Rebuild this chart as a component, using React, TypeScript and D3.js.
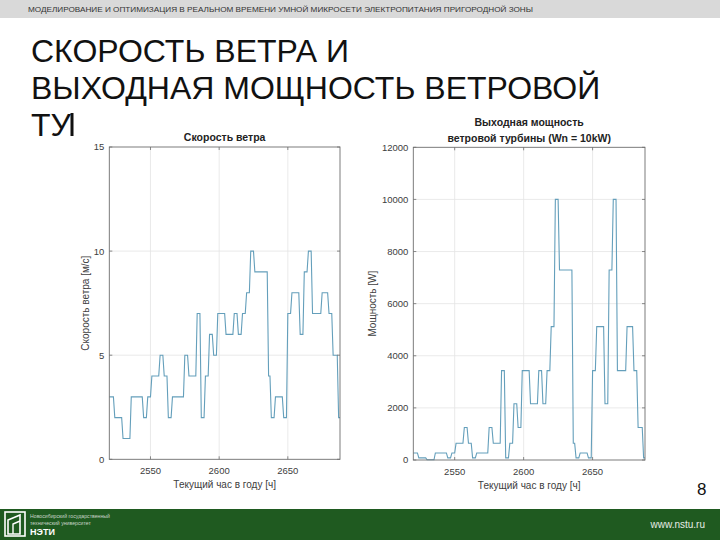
import React from "react";
import * as d3 from "d3";

// ---- data (hour of year 2520..2688) ----
const hours: number[] = d3.range(2520, 2689);

const windSpeed: number[] = [
  3, 3, 3, 3,
  2, 2, 2, 2, 2, 2,
  1, 1, 1, 1, 1, 1,
  3, 3, 3, 3, 3, 3, 3, 3, 3,
  2, 2, 2,
  3, 3, 3,
  4, 4, 4, 4, 4, 4,
  5, 5, 5,
  4, 4, 4,
  2, 2, 2,
  3, 3, 3, 3, 3, 3, 3, 3, 3,
  5, 5, 5,
  4, 4, 4, 4, 4, 4,
  7, 7, 7,
  2, 2, 2,
  4, 4, 4,
  6, 6, 6,
  5, 5, 5,
  7, 7, 7, 7, 7, 7,
  6, 6, 6, 6, 6, 6,
  7, 7, 7,
  6, 6, 6,
  7, 7, 7,
  8, 8, 8,
  10, 10, 10,
  9, 9, 9, 9, 9, 9, 9, 9, 9, 9,
  4, 4,
  2, 2, 2,
  3, 3, 3, 3, 3, 3,
  2, 2, 2,
  7, 7, 7,
  8, 8, 8, 8, 8, 8,
  6, 6, 6,
  9, 9, 9,
  10, 10, 10,
  7, 7, 7, 7, 7, 7, 7,
  8, 8, 8, 8, 8,
  7, 7, 7,
  5, 5, 5, 5,
  2, 2,
];

const power: number[] = [
  270, 270, 270, 270,
  80, 80, 80, 80, 80, 80,
  10, 10, 10, 10, 10, 10,
  270, 270, 270, 270, 270, 270, 270, 270, 270,
  80, 80, 80,
  270, 270, 270,
  640, 640, 640, 640, 640, 640,
  1250, 1250, 1250,
  640, 640, 640,
  80, 80, 80,
  270, 270, 270, 270, 270, 270, 270, 270, 270,
  1250, 1250, 1250,
  640, 640, 640, 640, 640, 640,
  3430, 3430, 3430,
  80, 80, 80,
  640, 640, 640,
  2160, 2160, 2160,
  1250, 1250, 1250,
  3430, 3430, 3430, 3430, 3430, 3430,
  2160, 2160, 2160, 2160, 2160, 2160,
  3430, 3430, 3430,
  2160, 2160, 2160,
  3430, 3430, 3430,
  5120, 5120, 5120,
  10000, 10000, 10000,
  7290, 7290, 7290, 7290, 7290, 7290, 7290, 7290, 7290, 7290,
  640, 640,
  80, 80, 80,
  270, 270, 270, 270, 270, 270,
  80, 80, 80,
  3430, 3430, 3430,
  5120, 5120, 5120, 5120, 5120, 5120,
  2160, 2160, 2160,
  7290, 7290, 7290,
  10000, 10000, 10000,
  3430, 3430, 3430, 3430, 3430, 3430, 3430,
  5120, 5120, 5120, 5120, 5120,
  3430, 3430, 3430,
  1250, 1250, 1250, 1250,
  80, 80,
];

const hourTicks: number[] = [2550, 2600, 2650];
const windTicks: number[] = [0, 5, 10, 15];
const powerTicks: number[] = [0, 2000, 4000, 6000, 8000, 10000, 12000];

const FONT = "'Liberation Sans', Arial, Helvetica, sans-serif";
const LINE_COLOR = "#649fbb";

type PanelProps = {
  left: number;
  right: number;
  top: number;
  bottom: number;
  yDomain: [number, number];
  yTicks: number[];
  values: number[];
  titles: string[];
  titleY: number[];
  yLabel: string;
  yLabelX: number;
};

function Panel(p: PanelProps) {
  const x = d3.scaleLinear().domain([2520, 2688]).range([p.left, p.right]);
  const y = d3.scaleLinear().domain(p.yDomain).range([p.bottom, p.top]);
  const line = d3
    .line<number>()
    .x((_, i) => x(hours[i]))
    .y((d) => y(d));
  const tickLen = 3;
  const cx = (p.left + p.right) / 2;
  const axisColor = "#6e6e6e";
  const gridColor = "#e4e4e4";
  const labelColor = "#404040";
  return (
    <g fontFamily={FONT}>
      {/* grid */}
      {hourTicks.map((t) => (
        <line key={"gx" + t} x1={x(t)} x2={x(t)} y1={p.top} y2={p.bottom} stroke={gridColor} strokeWidth={0.8} />
      ))}
      {p.yTicks
        .filter((t) => t !== p.yDomain[0] && t !== p.yDomain[1])
        .map((t) => (
          <line key={"gy" + t} x1={p.left} x2={p.right} y1={y(t)} y2={y(t)} stroke={gridColor} strokeWidth={0.8} />
        ))}
      {/* data */}
      <path d={line(p.values) || ""} fill="none" stroke={LINE_COLOR} strokeWidth={1.1} />
      {/* box */}
      <rect x={p.left} y={p.top} width={p.right - p.left} height={p.bottom - p.top} fill="none" stroke={axisColor} strokeWidth={0.9} />
      {/* ticks */}
      {hourTicks.map((t) => (
        <g key={"tx" + t}>
          <line x1={x(t)} x2={x(t)} y1={p.bottom} y2={p.bottom - tickLen} stroke={axisColor} strokeWidth={0.8} />
          <line x1={x(t)} x2={x(t)} y1={p.top} y2={p.top + tickLen} stroke={axisColor} strokeWidth={0.8} />
          <text x={x(t)} y={p.bottom + 15} textAnchor="middle" fontSize={9.5} fill={labelColor}>
            {t}
          </text>
        </g>
      ))}
      {p.yTicks.map((t) => (
        <g key={"ty" + t}>
          <line x1={p.left} x2={p.left + tickLen} y1={y(t)} y2={y(t)} stroke={axisColor} strokeWidth={0.8} />
          <line x1={p.right} x2={p.right - tickLen} y1={y(t)} y2={y(t)} stroke={axisColor} strokeWidth={0.8} />
          <text x={p.left - 5} y={y(t) + 3.4} textAnchor="end" fontSize={9.5} fill={labelColor}>
            {t}
          </text>
        </g>
      ))}
      {/* titles */}
      {p.titles.map((s, i) => (
        <text key={"t" + i} x={cx} y={p.titleY[i]} textAnchor="middle" fontSize={10.5} fontWeight="bold" fill="#222">
          {s}
        </text>
      ))}
      {/* axis labels */}
      <text x={cx} y={p.bottom + 29} textAnchor="middle" fontSize={10} fill={labelColor}>
        Текущий час в году [ч]
      </text>
      <text
        transform={`translate(${p.yLabelX},${(p.top + p.bottom) / 2}) rotate(-90)`}
        textAnchor="middle"
        fontSize={10}
        fill={labelColor}
      >
        {p.yLabel}
      </text>
    </g>
  );
}

export default function App() {
  return (
    <svg
      width={720}
      height={540}
      style={{ position: "absolute", left: 0, top: 0, background: "#fff" }}
      fontFamily={FONT}
    >
      <rect x={0} y={0} width={720} height={540} fill="#ffffff" />
      {/* header band */}
      <rect x={0} y={0} width={720} height={18} fill="#d9d9d9" />
      <text x={28} y={12} fontSize={8} fill="#333" textLength={505} lengthAdjust="spacingAndGlyphs">
        МОДЕЛИРОВАНИЕ И ОПТИМИЗАЦИЯ В РЕАЛЬНОМ ВРЕМЕНИ УМНОЙ МИКРОСЕТИ ЭЛЕКТРОПИТАНИЯ ПРИГОРОДНОЙ ЗОНЫ
      </text>
      {/* slide title (third line is cut by the chart pictures) */}
      <g fontSize={32} fill="#111">
        <text x={31} y={62}>СКОРОСТЬ ВЕТРА И</text>
        <text x={31} y={99}>ВЫХОДНАЯ МОЩНОСТЬ ВЕТРОВОЙ</text>
        <text x={31} y={136}>ТУ</text>
      </g>
      <rect x={70.5} y={113} width={3} height={23} fill="#111" />
      <Panel
        left={109.3}
        right={340}
        top={147}
        bottom={459.3}
        yDomain={[0, 15]}
        yTicks={windTicks}
        values={windSpeed}
        titles={["Скорость ветра"]}
        titleY={[141]}
        yLabel="Скорость ветра [м/с]"
        yLabelX={89}
      />
      <Panel
        left={413.3}
        right={645}
        top={147.3}
        bottom={460}
        yDomain={[0, 12000]}
        yTicks={powerTicks}
        values={power}
        titles={["Выходная мощность", "ветровой турбины (Wn = 10kW)"]}
        titleY={[126, 142]}
        yLabel="Мощность [W]"
        yLabelX={376}
      />
      {/* page number */}
      <text x={697} y={495} fontSize={17} fill="#111">8</text>
      {/* footer */}
      <rect x={0} y={509} width={720} height={31} fill="#1f5a20" />
      <g transform="translate(5,512)">
        <rect x={0} y={0} width={20} height={24} fill="none" stroke="#ffffff" strokeWidth={1.6} />
        <path d="M3,22 L3,8 L15,3 L15,22 Z" fill="none" stroke="#ffffff" strokeWidth={1.6} />
        <path d="M8,22 L8,12 L15,9" fill="none" stroke="#ffffff" strokeWidth={1.4} />
      </g>
      <text x={30} y={518} fontSize={5.2} fill="#c9d4c9">Новосибирский государственный</text>
      <text x={30} y={525} fontSize={5.2} fill="#c9d4c9">технический университет</text>
      <text x={30} y={535} fontSize={9} fontWeight="bold" fill="#ffffff">НЭТИ</text>
      <text x={705} y={528} fontSize={10} fill="#e6ece6" textAnchor="end">www.nstu.ru</text>
    </svg>
  );
}
